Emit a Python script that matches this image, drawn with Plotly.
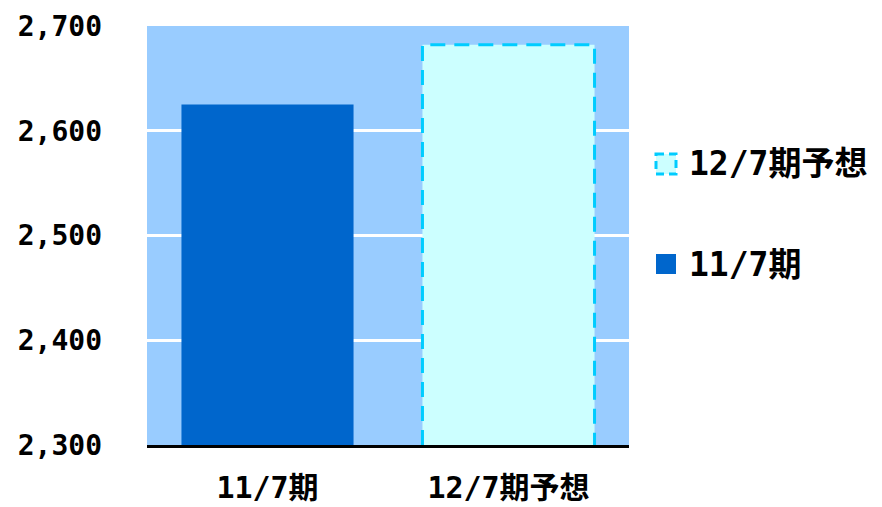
import plotly.graph_objects as go

categories = ["11/7期", "12/7期予想"]
values = [2625, 2682]
y_ticks = [2300, 2400, 2500, 2600, 2700]
y_ticktext = ["2,300", "2,400", "2,500", "2,600", "2,700"]

W, H = 882, 507
L, R, T, B = 147, 253, 26, 62
BAR_W = 0.714
FONT = "DejaVu Sans Mono, Noto Sans CJK JP, sans-serif"

def px_x(p):
    return (p - L) / (W - L - R)

def px_y(p):
    return (H - B - p) / (H - T - B)

fig = go.Figure()
fig.add_trace(go.Bar(
    x=[0], y=[values[0] - 2300], base=2300, width=BAR_W,
    marker=dict(color="#0066CC", line=dict(width=0)),
    name=categories[0], showlegend=False,
))
fig.add_trace(go.Bar(
    x=[1], y=[values[1] - 2300], base=2300, width=BAR_W,
    marker=dict(color="#CCFFFF", line=dict(width=0)),
    name=categories[1], showlegend=False,
))
x0, x1 = 1 - BAR_W / 2, 1 + BAR_W / 2
fig.add_trace(go.Scatter(
    x=[x0, x0, x1, x1], y=[2300, values[1], values[1], 2300],
    mode="lines", line=dict(color="#00CCFF", width=3, dash="15px,9px"),
    showlegend=False, hoverinfo="skip",
))

# manual legend
legend_items = [
    (categories[1], 164, "#CCFFFF", "#00CCFF", "dash"),
    (categories[0], 264, "#0066CC", "#0066CC", "solid"),
]
for text, cy, fill, lc, dash in legend_items:
    fig.add_shape(type="rect", xref="paper", yref="paper",
                  x0=px_x(656), x1=px_x(676), y0=px_y(cy - 10), y1=px_y(cy + 10),
                  fillcolor=fill, line=dict(color=lc, width=3 if dash == "dash" else 0, dash="8px,5px"),
                  layer="above")
    fig.add_annotation(xref="paper", yref="paper", x=px_x(687), y=px_y(cy),
                       xanchor="left", yanchor="middle", text=text, showarrow=False,
                       font=dict(family=FONT, size=33, color="black", weight="bold"))

fig.update_layout(
    width=W, height=H,
    margin=dict(l=L, r=R, t=T, b=B, autoexpand=False),
    paper_bgcolor="white", plot_bgcolor="#99CCFF",
    font=dict(family=FONT, size=28, color="black", weight="bold"),
    bargap=0.3,
)
fig.update_xaxes(
    range=[-0.5, 1.5], tickvals=[0, 1], ticktext=categories,
    showgrid=False, zeroline=False, showline=True, linecolor="black", linewidth=3,
    ticks="", ticklabelstandoff=14, automargin=False,
    tickfont=dict(family=FONT, size=30, color="black", weight="bold"),
)
fig.update_yaxes(
    range=[2300, 2700], tickvals=y_ticks, ticktext=y_ticktext,
    showgrid=True, gridcolor="white", gridwidth=3, zeroline=False, showline=False,
    ticks="", ticklabelstandoff=44, automargin=False,
    tickfont=dict(family=FONT, size=28, color="black", weight="bold"),
)

fig.write_html("out.html")
